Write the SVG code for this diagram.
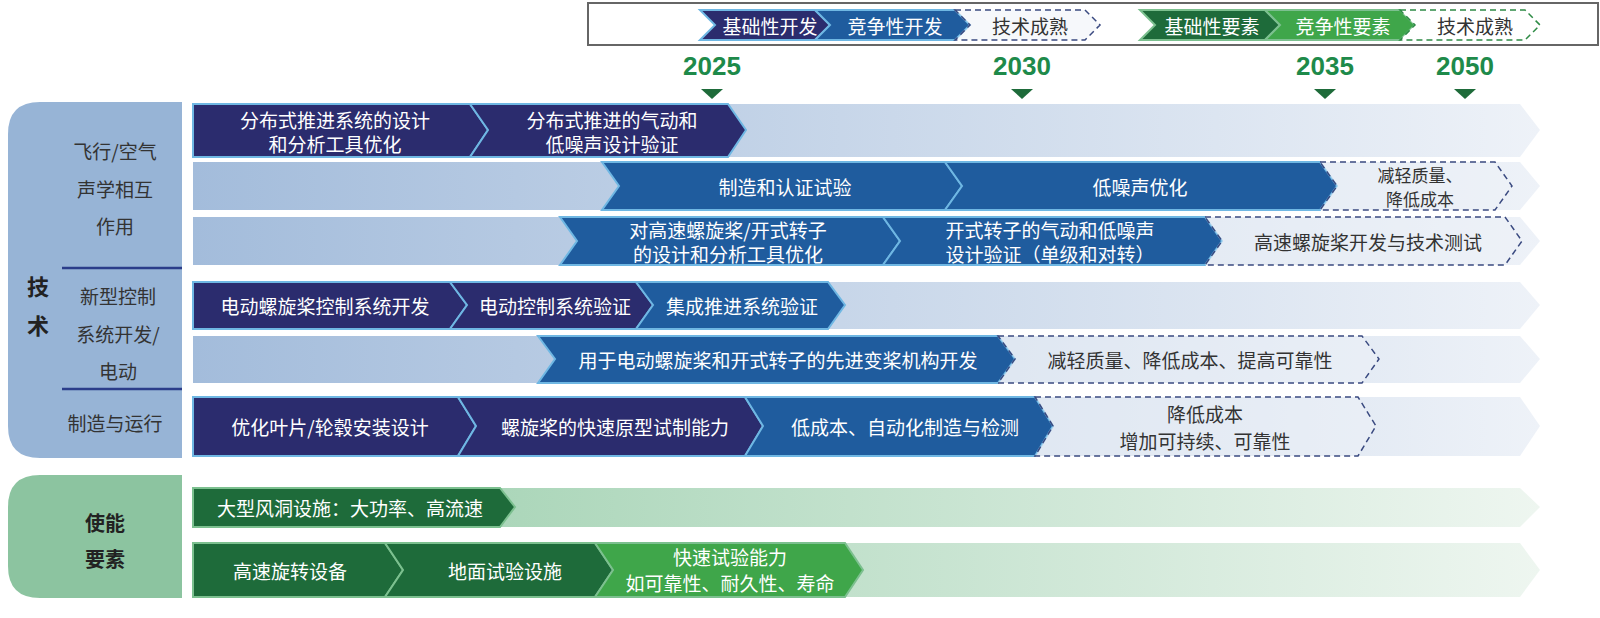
<svg xmlns="http://www.w3.org/2000/svg" width="1600" height="618" viewBox="0 0 1600 618">
<style>
text{font-family:"Noto Sans CJK SC","Liberation Sans",sans-serif;font-size:19px;text-anchor:middle;dominant-baseline:central}
.w{fill:#fff}
.k{fill:#333}
.sm{font-size:17px}
.nav{fill:#2b2c6e;stroke:#6fb7e3;stroke-width:2}
.blu{fill:#1f5c9e;stroke:#6fb7e3;stroke-width:2}
.dsh{fill:#eef2f8;fill-opacity:.5;stroke:#3a4a80;stroke-width:1.5;stroke-dasharray:6 4}
.dg{fill:#1e6b3a;stroke:#7cc08f;stroke-width:2}
.lg{fill:#3fa64a;stroke:#7cc08f;stroke-width:2}
.dshg{fill:#fff;stroke:#2e8b45;stroke-width:1.5;stroke-dasharray:6 4}
.bb{fill:url(#gb)}
.bg{fill:url(#gg)}
.yr{fill:#1e8a4a;font-family:"Liberation Sans",sans-serif;font-size:26px;font-weight:bold}
.lab{fill:#333;font-size:19px}
</style>
<defs>
<linearGradient id="gb" x1="0" x2="1" y1="0" y2="0"><stop offset="0" stop-color="#a3bcdb"/><stop offset="1" stop-color="#eef2f8"/></linearGradient>
<linearGradient id="gg" x1="0" x2="1" y1="0" y2="0"><stop offset="0" stop-color="#98cdaa"/><stop offset="1" stop-color="#eef6f0"/></linearGradient>
</defs>
<g id="legend">
<rect x="588" y="3" width="1010" height="42" fill="#fff" stroke="#666" stroke-width="2"/>
<polygon class="nav" points="700,10 815,10 830,25 815,40 700,40 715,25"/><text class="w" x="770" y="25">基础性开发</text>
<polygon class="blu" points="815,10 955,10 970,25 955,40 815,40 830,25"/><text class="w" x="895" y="25">竞争性开发</text>
<polygon class="dsh" points="955,10 1085,10 1100,25 1085,40 955,40 970,25"/><text class="k" x="1030" y="25">技术成熟</text>
<polygon class="dg" points="1140,10 1265,10 1280,25 1265,40 1140,40 1155,25"/><text class="w" x="1212" y="25">基础性要素</text>
<polygon class="lg" points="1265,10 1400,10 1415,25 1400,40 1265,40 1280,25"/><text class="w" x="1343" y="25">竞争性要素</text>
<polygon class="dshg" points="1400,10 1525,10 1540,25 1525,40 1400,40 1415,25"/><text class="k" x="1475" y="25">技术成熟</text>
</g>
<g id="years">
<text class="yr" x="712" y="66">2025</text><polygon fill="#1e6b3a" points="701,89 723,89 712,99"/>
<text class="yr" x="1022" y="66">2030</text><polygon fill="#1e6b3a" points="1011,89 1033,89 1022,99"/>
<text class="yr" x="1325" y="66">2035</text><polygon fill="#1e6b3a" points="1314,89 1336,89 1325,99"/>
<text class="yr" x="1465" y="66">2050</text><polygon fill="#1e6b3a" points="1454,89 1476,89 1465,99"/>
</g>
<g id="tech-panel">
<path d="M40,102 H182 V458 H40 Q8,458 8,426 V134 Q8,102 40,102Z" fill="#97b4d6"/>
<line x1="62" y1="268" x2="182" y2="268" stroke="#2b3d8a" stroke-width="2.5"/>
<line x1="62" y1="389" x2="182" y2="389" stroke="#2b3d8a" stroke-width="2.5"/>
<text class="lab" x="115" y="150">飞行/空气</text><text class="lab" x="115" y="188">声学相互</text><text class="lab" x="115" y="225">作用</text>
<text x="38" y="285" style="font-size:22px;font-weight:bold;fill:#222">技</text><text x="38" y="324" style="font-size:22px;font-weight:bold;fill:#222">术</text>
<text class="lab" x="118" y="295">新型控制</text><text class="lab" x="118" y="333">系统开发/</text><text class="lab" x="118" y="370">电动</text>
<text class="lab" x="115" y="422">制造与运行</text>
</g>
<g id="enable-panel">
<path d="M40,475 H182 V598 H40 Q8,598 8,566 V507 Q8,475 40,475Z" fill="#8cc4a0"/>
<text x="105" y="522" style="font-size:20px;font-weight:bold;fill:#222">使能</text><text x="105" y="558" style="font-size:20px;font-weight:bold;fill:#222">要素</text>
</g>
<g id="connectors">
<polygon class="bb" points="193,104 1520,104 1540,130 1520,157 193,157"/>
<polygon class="bb" points="193,162 1520,162 1540,186 1520,210 193,210"/>
<polygon class="bb" points="193,217 1520,217 1540,241 1520,265 193,265"/>
<polygon class="bb" points="193,282 1520,282 1540,305 1520,329 193,329"/>
<polygon class="bb" points="193,336 1520,336 1540,359 1520,383 193,383"/>
<polygon class="bb" points="193,397 1520,397 1540,426 1520,456 193,456"/>
<polygon class="bg" points="193,488 1520,488 1540,507 1520,527 193,527"/>
<polygon class="bg" points="193,543 1520,543 1540,570 1520,597 193,597"/>
</g>
<g id="row1">
<polygon class="nav" points="193,104 470,104 488,130 470,157 193,157"/><text class="w" x="335" y="119">分布式推进系统的设计</text><text class="w" x="335" y="143">和分析工具优化</text>
<polygon class="nav" points="470,104 728,104 746,130 728,157 470,157 488,130"/><text class="w" x="612" y="119">分布式推进的气动和</text><text class="w" x="612" y="143">低噪声设计验证</text>
</g>
<g id="row2">
<polygon class="blu" points="602,162 945,162 962,186 945,210 602,210 619,186"/><text class="w" x="785" y="186">制造和认证试验</text>
<polygon class="blu" points="945,162 1320,162 1337,186 1320,210 945,210 962,186"/><text class="w" x="1140" y="186">低噪声优化</text>
<polygon class="dsh" points="1320,162 1495,162 1512,186 1495,210 1320,210 1337,186"/><text class="k sm" x="1420" y="174">减轻质量、</text><text class="k sm" x="1420" y="198">降低成本</text>
</g>
<g id="row3">
<polygon class="blu" points="560,217 883,217 900,241 883,265 560,265 577,241"/><text class="w" x="728" y="229">对高速螺旋桨/开式转子</text><text class="w" x="728" y="253">的设计和分析工具优化</text>
<polygon class="blu" points="883,217 1205,217 1222,241 1205,265 883,265 900,241"/><text class="w" x="1050" y="229">开式转子的气动和低噪声</text><text class="w" x="1050" y="253">设计验证（单级和对转）</text>
<polygon class="dsh" points="1205,217 1505,217 1522,241 1505,265 1205,265 1222,241"/><text class="k" x="1368" y="241">高速螺旋桨开发与技术测试</text>
</g>
<g id="row4">
<polygon class="nav" points="193,282 450,282 467,305 450,329 193,329"/><text class="w" x="325" y="305">电动螺旋桨控制系统开发</text>
<polygon class="nav" points="450,282 636,282 653,305 636,329 450,329 467,305"/><text class="w" x="555" y="305">电动控制系统验证</text>
<polygon class="blu" points="636,282 828,282 845,305 828,329 636,329 653,305"/><text class="w" x="742" y="305">集成推进系统验证</text>
</g>
<g id="row5">
<polygon class="blu" points="538,336 998,336 1015,359 998,383 538,383 555,359"/><text class="w" x="778" y="359">用于电动螺旋桨和开式转子的先进变桨机构开发</text>
<polygon class="dsh" points="998,336 1362,336 1379,359 1362,383 998,383 1015,359"/><text class="k" x="1190" y="359">减轻质量、降低成本、提高可靠性</text>
</g>
<g id="row6">
<polygon class="nav" points="193,397 458,397 476,426 458,456 193,456"/><text class="w" x="330" y="426">优化叶片/轮毂安装设计</text>
<polygon class="nav" points="458,397 745,397 763,426 745,456 458,456 476,426"/><text class="w" x="615" y="426">螺旋桨的快速原型试制能力</text>
<polygon class="blu" points="745,397 1035,397 1053,426 1035,456 745,456 763,426"/><text class="w" x="905" y="426">低成本、自动化制造与检测</text>
<polygon class="dsh" points="1035,397 1358,397 1376,426 1358,456 1035,456 1053,426"/><text class="k" x="1205" y="413">降低成本</text><text class="k" x="1205" y="440">增加可持续、可靠性</text>
</g>
<g id="green1">
<polygon class="dg" points="193,488 500,488 515,507 500,527 193,527"/><text class="w" x="350" y="507">大型风洞设施：大功率、高流速</text>
</g>
<g id="green2">
<polygon class="dg" points="193,543 385,543 403,570 385,597 193,597"/><text class="w" x="290" y="570">高速旋转设备</text>
<polygon class="dg" points="385,543 595,543 613,570 595,597 385,597 403,570"/><text class="w" x="505" y="570">地面试验设施</text>
<polygon class="lg" points="595,543 845,543 863,570 845,597 595,597 613,570"/><text class="w" x="730" y="556">快速试验能力</text><text class="w" x="730" y="582">如可靠性、耐久性、寿命</text>
</g>
</svg>
